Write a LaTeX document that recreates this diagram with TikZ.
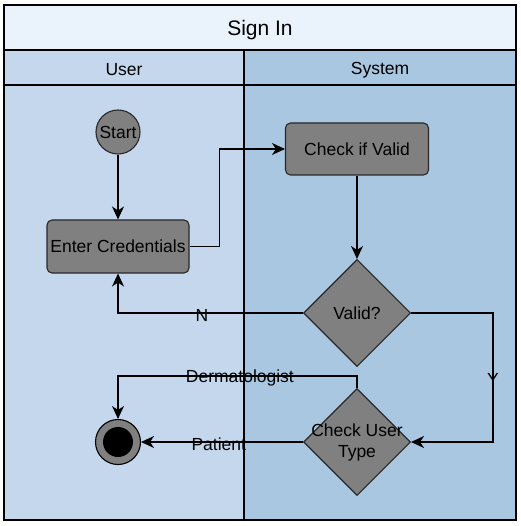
\documentclass[tikz,border=0pt]{standalone}
\usepackage{fontspec}
\setmainfont{Liberation Sans}
\usetikzlibrary{shapes.geometric,arrows.meta}
\definecolor{titlebg}{RGB}{234,242,252}
\definecolor{userbg}{RGB}{196,215,236}
\definecolor{sysbg}{RGB}{169,199,225}
\definecolor{nodefill}{RGB}{128,128,128}
\definecolor{nodeline}{RGB}{40,40,40}
\begin{document}
\begin{tikzpicture}[x=1pt,y=-1pt,
  txt/.style={font=\fontsize{17.5}{21}\selectfont},
  action/.style={txt,draw=nodeline,line width=1.1pt,fill=nodefill,rounded corners=5pt,inner sep=0pt},
  startnode/.style={txt,circle,draw=nodeline,line width=1.1pt,fill=nodefill,inner sep=0pt,minimum size=44pt},
  decision/.style={diamond,shape aspect=1,draw=nodeline,line width=1.1pt,fill=nodefill,inner sep=0pt,minimum size=107pt},
  arr/.style={line width=1.2pt,-{Stealth[length=13pt,width=12pt,inset=4pt]}},
  elabel/.style={txt,inner sep=0pt,yshift=-2pt},
  lane/.style={line width=1.3pt,draw=black}]
\useasboundingbox (0,0) rectangle (520,526);
% lanes
\fill[titlebg] (4,5) rectangle (516,50);
\fill[userbg] (4,50) rectangle (244,520);
\fill[sysbg] (244,50) rectangle (516,520);
\draw[lane] (4,5) rectangle (516,520);
\draw[lane] (4,50) -- (516,50);
\draw[lane] (4,85) -- (516,85);
\draw[lane] (244,50) -- (244,520);
\node[font=\fontsize{21}{25}\selectfont] (title) at (260,30.5) {Sign In};
\node[txt] (huser) at (124,70) {User};
\node[txt] (hsys) at (380,70) {System};
% nodes
\node[startnode] (start) at (118,132) {Start};
\node[action,minimum width=142pt,minimum height=53pt] (enter) at (118,246.5) {Enter Credentials};
\node[action,minimum width=143pt,minimum height=52pt] (check) at (357,149) {Check if Valid};
\node[decision,label={[txt]center:Valid?}] (valid) at (357,313) {};
\node[decision,label={[txt,align=center]center:Check User\\Type}] (ctype) at (357,442) {};
\node[circle,draw=black,line width=1.1pt,fill=nodefill,minimum size=45pt,inner sep=0pt,
  path picture={\fill[black] (path picture bounding box.center) circle (15);}] (end) at (118,442) {};
% connectors
\draw[arr] (start) -- (enter);
\draw[arr] (enter.east) -- ++(30,0) |- (check.west);
\draw[arr] (check) -- (valid);
\draw[arr] (valid.west) -| node[elabel,pos=0.273] {N} (enter.south);
\draw[arr] (valid.east) -- ++(82,0) |- node[elabel,pos=0.25] {Y} (ctype.east);
\draw[arr] (ctype.north) -- ++(0,-12) -| node[elabel,pos=0.245] {Dermatologist} (end.north);
\draw[arr] (ctype.west) -- node[elabel,pos=0.52] {Patient} (end.east);
\end{tikzpicture}
\end{document}
